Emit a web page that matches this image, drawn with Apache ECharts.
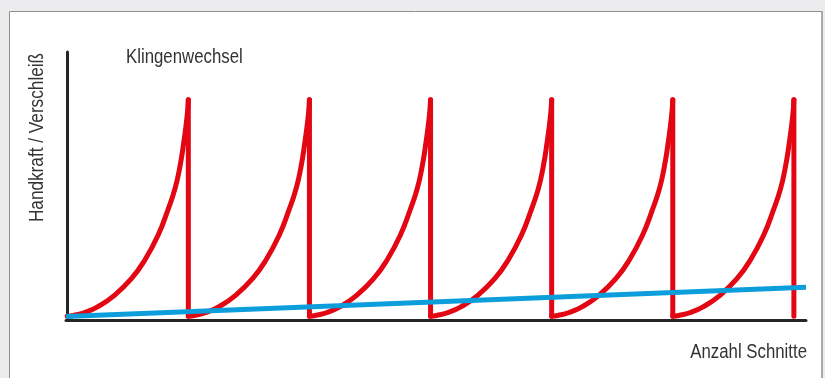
<!DOCTYPE html>
<html>
<head>
<meta charset="utf-8">
<script src="https://cdn.jsdelivr.net/npm/echarts@6/dist/echarts.min.js"></script>
<style>
  html, body { margin: 0; padding: 0; background: #ececee; }
  #chart { width: 825px; height: 378px; }
</style>
</head>
<body>
<div id="chart"></div>
<script>
// x positions where a new blade starts (Klingenwechsel)
const cycleStarts = [0, 100, 200, 300, 400, 500];
// shape of one blade cycle (x within cycle, force)
const cycleX = [0, 5, 14, 25, 39, 53, 64, 75, 83, 89, 93, 96, 99, 100];
const cycleY = [1.4, 1.7, 2.7, 4.9, 9.2, 15.4, 22.3, 31.6, 40.9, 49.0, 57.1, 65.5, 76.0, 82.2];
const dropBottom = 1.4;
// wear (Verschleiß) line
const wearX = [-1, 610];
const wearY = [1.3, 12.2];

const red = '#e30613';
const blue = '#0c9edb';
const font = '"Liberation Sans", Arial, sans-serif';
const narrow = 0.84;

const series = [];

cycleStarts.forEach(start => {
    series.push({
        type: 'line',
        data: cycleX.map((x, i) => [start + x, cycleY[i]]),
        smooth: 0.5,
        symbol: 'none',
        lineStyle: { color: red, width: 5, cap: 'round', join: 'round' },
        z: 2
    });
    const end = start + cycleX[cycleX.length - 1];
    series.push({
        type: 'line',
        data: [[end, cycleY[cycleY.length - 1]], [end, dropBottom]],
        symbol: 'none',
        lineStyle: { color: red, width: 5, cap: 'round', join: 'round' },
        z: 2
    });
});

series.push({
    type: 'line',
    data: wearX.map((x, i) => [x, wearY[i]]),
    symbol: 'none',
    lineStyle: { color: blue, width: 5 },
    z: 3
});

const chart = echarts.init(document.getElementById('chart'));

chart.setOption({
    animation: false,
    backgroundColor: '#ececee',
    grid: { left: 66, right: 19, top: 52, bottom: 58 },
    xAxis: {
        type: 'value',
        min: -1,
        max: 610,
        axisLine: { lineStyle: { color: '#262626', width: 3 } },
        axisTick: { show: false },
        axisLabel: { show: false },
        splitLine: { show: false }
    },
    yAxis: {
        type: 'value',
        min: 0,
        max: 100,
        axisLine: { show: true, lineStyle: { color: '#262626', width: 3 } },
        axisTick: { show: false },
        axisLabel: { show: false },
        splitLine: { show: false }
    },
    graphic: [
        {
            type: 'rect',
            z: -10,
            shape: { x: 9.5, y: 11.5, width: 812, height: 400 },
            style: { fill: '#ffffff', stroke: '#8f8f8f', lineWidth: 1 }
        },
        {
            type: 'rect',
            z: -9,
            shape: { x: 821, y: 11, width: 2, height: 400 },
            style: { fill: '#ababab' }
        },
        {
            type: 'text',
            x: 126,
            y: 57.5,
            scaleX: narrow,
            style: {
                text: 'Klingenwechsel',
                fill: '#333333',
                fontSize: 20,
                fontFamily: font,
                align: 'left',
                verticalAlign: 'middle'
            }
        },
        {
            type: 'text',
            x: 807,
            y: 352,
            scaleX: narrow,
            style: {
                text: 'Anzahl Schnitte',
                fill: '#333333',
                fontSize: 20,
                fontFamily: font,
                align: 'right',
                verticalAlign: 'middle'
            }
        },
        {
            type: 'text',
            x: 37,
            y: 137.5,
            rotation: Math.PI / 2,
            scaleX: 0.86,
            style: {
                text: 'Handkraft / Verschleiß',
                fill: '#333333',
                fontSize: 20,
                fontFamily: font,
                align: 'center',
                verticalAlign: 'middle'
            }
        }
    ],
    series: series
});
</script>
</body>
</html>
